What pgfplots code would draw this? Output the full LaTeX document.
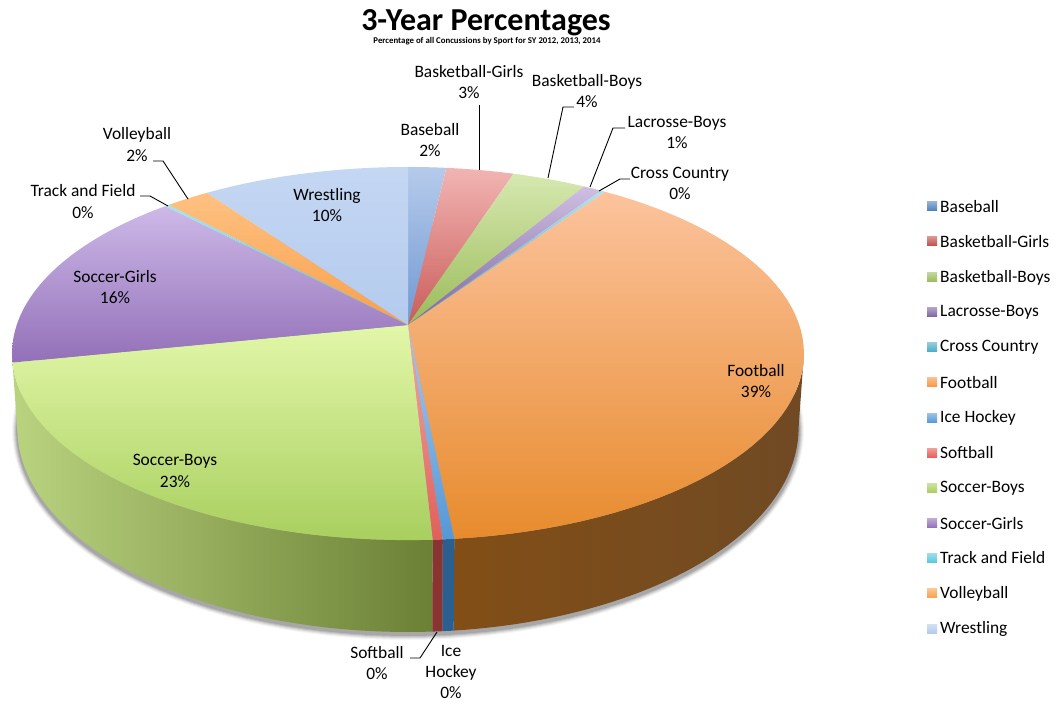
\documentclass[border=0pt]{standalone}
\usepackage{fontspec}
\setmainfont{Carlito}
\usepackage{pgfplots}
\pgfplotsset{compat=1.18}

% slice top faces: lighter colour at the top, darker at the bottom
\definecolor{baseT}{HTML}{B6CBEB}\definecolor{baseB}{HTML}{7098D2}
\definecolor{bgT}{HTML}{F1B5B3}\definecolor{bgB}{HTML}{CA5C59}
\definecolor{bbT}{HTML}{D6E8B0}\definecolor{bbB}{HTML}{9BBB59}
\definecolor{lacT}{HTML}{CFBFE2}\definecolor{lacB}{HTML}{8064A2}
\definecolor{ccT}{HTML}{B0E1EE}\definecolor{ccB}{HTML}{4BACC6}
\definecolor{footT}{HTML}{FCC39D}\definecolor{footB}{HTML}{E78B2D}
\definecolor{iceT}{HTML}{A9C8EC}\definecolor{iceB}{HTML}{5598D6}
\definecolor{softT}{HTML}{F2A9A5}\definecolor{softB}{HTML}{E0605A}
\definecolor{sbT}{HTML}{E2F7A9}\definecolor{sbB}{HTML}{A9CF5F}
\definecolor{sgT}{HTML}{CDB9E8}\definecolor{sgB}{HTML}{9370B8}
\definecolor{tfT}{HTML}{A0E4F0}\definecolor{tfB}{HTML}{5FC8DD}
\definecolor{volT}{HTML}{FEC182}\definecolor{volB}{HTML}{F9A04B}
\definecolor{wreT}{HTML}{C4D7F3}\definecolor{wreB}{HTML}{B4CBEE}
% side wall colours
\definecolor{footL}{HTML}{824E16}\definecolor{footM}{HTML}{673F14}\definecolor{footR}{HTML}{704A24}
\definecolor{iceS}{HTML}{2A5F8F}\definecolor{softS}{HTML}{8A3432}
\definecolor{sbL}{HTML}{B9D37F}\definecolor{sbM}{HTML}{99B65C}\definecolor{sbR}{HTML}{6B8035}
% legend keys
\definecolor{kBase}{HTML}{4F81BD}\definecolor{kBg}{HTML}{C0504D}\definecolor{kBb}{HTML}{9BBB59}
\definecolor{kLac}{HTML}{8064A2}\definecolor{kCc}{HTML}{4BACC6}\definecolor{kFoot}{HTML}{F79646}
\definecolor{kIce}{HTML}{5B9BD5}\definecolor{kSoft}{HTML}{E8605A}\definecolor{kSb}{HTML}{A9CF5F}
\definecolor{kSg}{HTML}{9370B8}\definecolor{kTf}{HTML}{5FC8DD}\definecolor{kVol}{HTML}{F9A04B}
\definecolor{kWre}{HTML}{B4CBEE}

\def\curP{0}
% one top face: share in percent, upper colour, lower colour
\newcommand\Slice[3]{%
  \pgfmathsetmacro\nextP{\curP+#1}%
  \edef\temp{\noexpand\addplot[draw=none,top color=#2,bottom color=#3,
    domain=\curP:\nextP,samples=60,forget plot]
    ({topx(x)},{topy(x)}) -- (axis cs:408,325) -- cycle;}\temp
  \global\let\curP\nextP}
% one side wall between two cumulative percentages
\newcommand\Wall[3]{%
  \addplot[draw=none,#3,samples at={0,0.02,...,0.98,1,1.0001,1.02,1.04,...,2},forget plot]
    ({ifthenelse(x<=1,topx(#1+(#2-#1)*x),lowx(#2-(#2-#1)*(x-1)))},
     {ifthenelse(x<=1,topy(#1+(#2-#1)*x),lowy(#2-(#2-#1)*(x-1)))}) -- cycle;}
% soft shadow ring below the lower rim
\newcommand\ShadowRing[2]{%
  \addplot[draw=none,fill=black,fill opacity=#2,domain=0:100,samples=120,forget plot]
    ({408+(391+#1)*sin(3.6*x)},{431+(204+#1)*cos(3.6*x)}) -- cycle;}
% legend key and entry
\newcommand\LabelFont{\fontsize{17.4}{21.3}\selectfont}
\newcommand\Key[3]{%
  \addplot[draw=none,top color=#3!60!white,bottom color=#3,forget plot] coordinates
    {(927,#1-5) (937,#1-5) (937,#1+4) (927,#1+4)} -- cycle;
  \node[anchor=west,inner sep=0pt,font=\LabelFont] at (axis cs:940,#1) {#2};}
\newcommand\Label[3]{\node[align=center,inner sep=0pt,font=\LabelFont] at (axis cs:#1,#2) {#3};}
\newcommand\Leader[1]{\addplot[black,line width=0.9pt,no marks,forget plot] coordinates {#1};}

\begin{document}
\begin{tikzpicture}
\begin{axis}[
  width=1055pt,height=702pt,scale only axis,
  xmin=0,xmax=1055,ymin=0,ymax=702,y dir=reverse,
  axis lines=none,clip=false,
  declare function={
    topx(\p)=408+391.3*sin(3.6*\p)/(1+0.153*cos(3.6*\p));
    topy(\p)=325-182.2*cos(3.6*\p)/(1+0.153*cos(3.6*\p));
    lowx(\p)=408+386*sin(3.6*\p)/(1+0.153*cos(3.6*\p));
    lowy(\p)=396.8-199.2*cos(3.6*\p)/(1+0.153*cos(3.6*\p));
  }]
% full canvas extent
\path (axis cs:0,0) -- (axis cs:1055,702);

\ShadowRing{1}{0.12}\ShadowRing{2}{0.10}\ShadowRing{3}{0.08}\ShadowRing{4}{0.06}\ShadowRing{5}{0.04}

% side walls
\Wall{27.4}{48.4}{left color=footL,middle color=footM,right color=footR}
\Wall{48.4}{48.8}{fill=iceS}
\Wall{48.8}{49.15}{fill=softS}
\Wall{49.15}{71.8}{left color=sbL,middle color=sbM,right color=sbR}

% top faces, clockwise from twelve o'clock
\Slice{1.8}{baseT}{baseB}
\Slice{3.2}{bgT}{bgB}
\Slice{3.5}{bbT}{bbB}
\Slice{0.9}{lacT}{lacB}
\Slice{0.2}{ccT}{ccB}
\Slice{38.8}{footT}{footB}
\Slice{0.4}{iceT}{iceB}
\Slice{0.35}{softT}{softB}
\Slice{22.65}{sbT}{sbB}
\Slice{16.1}{sgT}{sgB}
\Slice{0.2}{tfT}{tfB}
\Slice{2.1}{volT}{volB}
\Slice{9.8}{wreT}{wreB}

% leader lines
\Leader{(479,105) (479,170)}
\Leader{(574,107) (563,107) (548,178)}
\Leader{(625,128) (613,128) (590,187)}
\Leader{(630,179) (620,179) (599,191)}
\Leader{(153,161) (163,161) (188,199)}
\Leader{(140,196) (150,196) (168,206)}
\Leader{(410,658) (420,658) (437,632)}

% data labels
\Label{430}{140}{Baseball\\2\%}
\Label{469}{82}{Basketball-Girls\\3\%}
\Label{587}{91}{Basketball-Boys\\4\%}
\Label{677}{132.5}{Lacrosse-Boys\\1\%}
\Label{680}{183.5}{Cross Country\\0\%}
\Label{137}{144.5}{Volleyball\\2\%}
\Label{83}{201.5}{Track and Field\\0\%}
\Label{327}{205}{Wrestling\\10\%}
\Label{115}{287}{Soccer-Girls\\16\%}
\Label{175}{471}{Soccer-Boys\\23\%}
\Label{756}{381}{Football\\39\%}
\Label{377}{663}{Softball\\0\%}
\Label{451}{672}{Ice\\Hockey\\0\%}

% legend
\Key{206.5}{Baseball}{kBase}
\Key{241.5}{Basketball-Girls}{kBg}
\Key{277.5}{Basketball-Boys}{kBb}
\Key{312.5}{Lacrosse-Boys}{kLac}
\Key{347.5}{Cross Country}{kCc}
\Key{382.5}{Football}{kFoot}
\Key{418}{Ice Hockey}{kIce}
\Key{453}{Softball}{kSoft}
\Key{488.5}{Soccer-Boys}{kSb}
\Key{523.5}{Soccer-Girls}{kSg}
\Key{558}{Track and Field}{kTf}
\Key{593.5}{Volleyball}{kVol}
\Key{629}{Wrestling}{kWre}

% titles
\node[inner sep=0pt,font=\fontsize{32}{36}\selectfont\bfseries] at (axis cs:486,22.5) {3-Year Percentages};
\node[inner sep=0pt,font=\fontsize{8.8}{10}\selectfont\bfseries] at (axis cs:487,41.5) {Percentage of all Concussions by Sport for SY 2012, 2013, 2014};
\end{axis}
\end{tikzpicture}
\end{document}
